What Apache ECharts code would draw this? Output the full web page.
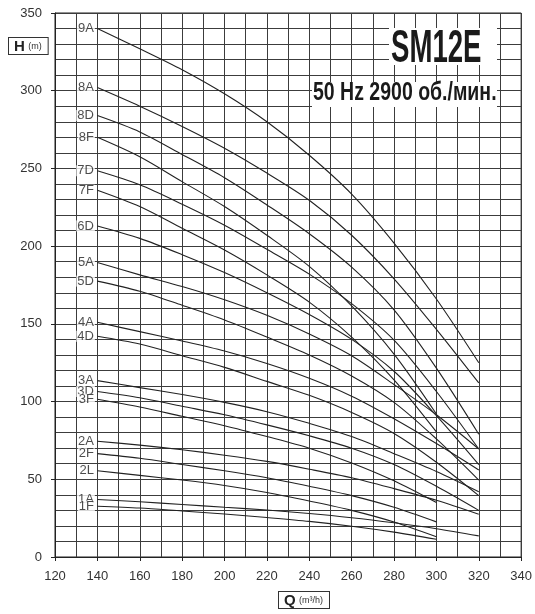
<!DOCTYPE html>
<html>
<head>
<meta charset="utf-8">
<script src="https://cdn.jsdelivr.net/npm/echarts@6/dist/echarts.min.js"></script>
<style>
  html, body { margin: 0; padding: 0; background: #fff; }
  #chart { width: 535px; height: 614px; }
</style>
</head>
<body>
<div id="chart"></div>
<script>
// Flow rates (m3/h) at which head values are listed
const flowPoints = [140, 160, 180, 200, 220, 240, 260, 280, 300, 320];

// Curve names, in order from the top of the chart downwards
const curveNames = ['9A', '8A', '8D', '8F', '7D', '7F', '6D', '5A', '5D', '4A', '4D',
                    '3A', '3D', '3F', '2A', '2F', '2L', '1A', '1F'];

// Head (m) for each curve at the flow points above (F and L curves stop at 300 m3/h)
const head9A = [340, 327, 313.5, 298, 280, 258.5, 233.5, 202, 166, 125];
const head8A = [302, 290, 277, 263, 247, 229.5, 207, 179, 146.5, 112];
const head8D = [284, 273.5, 259, 244, 226.5, 208, 186.5, 159, 121.5, 79];
const head8F = [270, 257.5, 241.5, 225.5, 207, 187, 161.5, 130.5, 92];
const head7D = [248.5, 239.5, 227, 213.5, 198, 182, 163, 139.5, 106.5, 69.5];
const head7F = [236, 225.5, 211.5, 197.5, 181.5, 164, 141.5, 114, 80.5];
const head6D = [213, 205, 194.5, 183, 170, 156, 140, 119.5, 91, 59.5];
const head5A = [189.5, 181.5, 174, 165.5, 155.5, 143.5, 129.5, 111, 91.5, 69.5];
const head5D = [177.5, 171, 162, 152.5, 141.5, 130, 116.5, 99.5, 76, 49.5];
const head4A = [151, 145, 139, 132.5, 124.5, 115, 103.5, 89, 73, 56];
const head4D = [142, 137, 129.5, 122, 113, 104, 93, 79.5, 61, 39.5];
const head3A = [113.5, 109, 104.5, 99.5, 93.5, 86, 77.5, 66.5, 55, 42];
const head3D = [106.5, 102.5, 97, 91.5, 85, 78, 70, 59.5, 45.5, 30];
const head3F = [101.5, 96.5, 90.5, 84.5, 77.5, 70, 60.5, 49, 35];
const head2A = [74.5, 72, 69, 65.5, 61.5, 56.5, 51, 44, 36.5, 27.5];
const head2F = [66.5, 63.5, 59.5, 55.5, 51, 45.5, 39.5, 32, 22.6];
const head2L = [55.5, 52.5, 49.5, 46, 41.5, 36, 30, 22.5, 13];
const head1A = [37, 35.5, 33.8, 32, 30.2, 28, 25.3, 22, 18.2, 13.6];
const head1F = [32.7, 31.5, 29.6, 27.7, 25.4, 22.9, 19.8, 16, 11.4];

// Axis tick labels
const xTicks = [120, 140, 160, 180, 200, 220, 240, 260, 280, 300, 320, 340];
const yTicks = [0, 50, 100, 150, 200, 250, 300, 350];

const curveHeads = [head9A, head8A, head8D, head8F, head7D, head7F, head6D, head5A, head5D,
                    head4A, head4D, head3A, head3D, head3F, head2A, head2F, head2L, head1A, head1F];

// Vertical nudges (px) for the curve names written left of each curve start
const nameNudge = [2, -4, -7, -4, -8, -4, -3, -4, -3, -3, 0, -8, -6, -3, -2, 4, -1, -5, 1];

const ink = '#222';
const gridInk = '#3c3c3c';
const labelFont = '"Liberation Sans Narrow", "Liberation Sans", Arial, sans-serif';

const series = curveNames.map((name, i) => ({
  name: name,
  type: 'line',
  data: curveHeads[i].map((h, k) => [flowPoints[k], h]),
  smooth: 0.3,
  showSymbol: false,
  symbol: 'none',
  silent: true,
  lineStyle: { color: ink, width: 1.1 },
  z: 5
}));

// Curve names, anchored at the first point of each curve
series.push({
  type: 'scatter',
  silent: true,
  symbol: 'circle',
  symbolSize: 1,
  itemStyle: { color: 'rgba(0,0,0,0)' },
  z: 6,
  data: curveNames.map((name, i) => ({
    name: name,
    value: [flowPoints[0], curveHeads[i][0]],
    label: { offset: [0, nameNudge[i]] }
  })),
  label: {
    show: true,
    position: 'left',
    distance: 2,
    formatter: p => p.name,
    color: '#1e1e1e',
    fontSize: 13,
    lineHeight: 11,
    fontFamily: labelFont,
    backgroundColor: '#fff',
    padding: [0, 1, 0, 1]
  },
  labelLayout: { hideOverlap: false }
});

const chart = echarts.init(document.getElementById('chart'), null, { renderer: 'canvas' });

chart.setOption({
  animation: false,
  backgroundColor: '#fff',
  grid: { left: 55, right: 10, top: 13, bottom: 57, show: true, borderColor: '#222', borderWidth: 1 },
  xAxis: {
    type: 'value',
    min: xTicks[0],
    max: xTicks[xTicks.length - 1],
    interval: 20,
    axisLine: { show: true, lineStyle: { color: '#222', width: 1 } },
    axisTick: { show: true, length: 4, lineStyle: { color: '#222' } },
    axisLabel: { color: '#333', fontSize: 13, margin: 13, fontFamily: labelFont },
    splitLine: { show: true, lineStyle: { color: gridInk, width: 1 } },
    minorTick: { show: false, splitNumber: 2 },
    minorSplitLine: { show: true, lineStyle: { color: gridInk, width: 1 } }
  },
  yAxis: {
    type: 'value',
    min: yTicks[0],
    max: yTicks[yTicks.length - 1],
    interval: 50,
    axisLine: { show: true, lineStyle: { color: '#222', width: 1 } },
    axisTick: { show: true, length: 4, lineStyle: { color: '#222' } },
    axisLabel: { color: '#333', fontSize: 13, margin: 13, fontFamily: labelFont },
    splitLine: { show: true, lineStyle: { color: gridInk, width: 1 } },
    minorTick: { show: false, splitNumber: 5 },
    minorSplitLine: { show: true, lineStyle: { color: gridInk, width: 1 } }
  },
  series: series,
  graphic: [
    {
      type: 'text', left: 8, top: 37, z: 20,
      style: {
        text: '{b|H} {s|(m)}',
        rich: {
          b: { fontSize: 15, fontWeight: 'bold', fill: '#222', fontFamily: 'Liberation Sans, Arial' },
          s: { fontSize: 9, fill: '#333', fontFamily: labelFont }
        },
        backgroundColor: '#fff', borderColor: '#333', borderWidth: 1,
        padding: [1, 6, 0, 5]
      }
    },
    {
      type: 'text', left: 278, top: 591, z: 20,
      style: {
        text: '{b|Q} {s|(m³/h)}',
        rich: {
          b: { fontSize: 15, fontWeight: 'bold', fill: '#222', fontFamily: 'Liberation Sans, Arial' },
          s: { fontSize: 9, fill: '#333', fontFamily: labelFont }
        },
        backgroundColor: '#fff', borderColor: '#333', borderWidth: 1,
        padding: [1, 6, 0, 5]
      }
    },
    {
      type: 'rect', z: 19, shape: { x: 389, y: 28, width: 108, height: 37 },
      style: { fill: '#fff' }
    },
    {
      type: 'text', x: 391, y: 26, z: 20, scaleX: 0.6,
      style: {
        text: 'SM12E', fill: '#1a1a1a',
        font: 'bold 46px "Liberation Sans Narrow", "Liberation Sans", Arial'
      }
    },
    {
      type: 'rect', z: 19, shape: { x: 312, y: 82, width: 185, height: 25 },
      style: { fill: '#fff' }
    },
    {
      type: 'text', x: 313, y: 81, z: 20, scaleX: 0.78,
      style: {
        text: '50 Hz 2900 об./мин.', fill: '#1a1a1a',
        font: 'bold 25px "Liberation Sans Narrow", "Liberation Sans", Arial'
      }
    }
  ]
});
</script>
</body>
</html>
